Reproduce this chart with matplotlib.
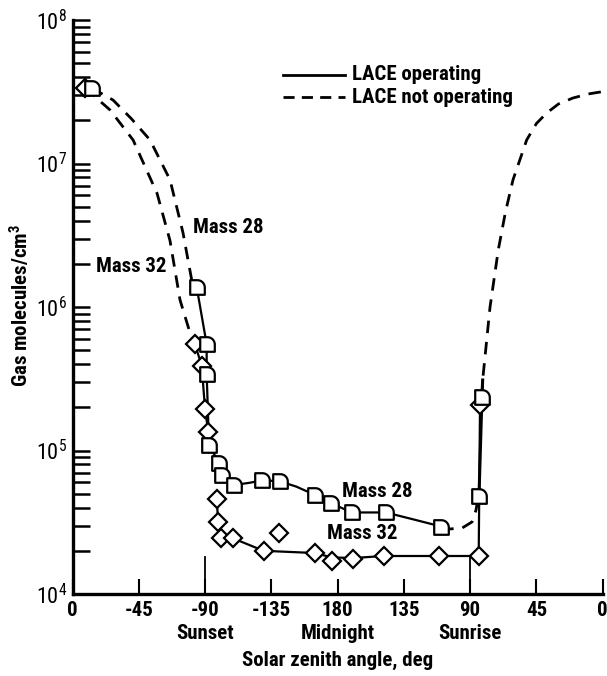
import numpy as np
import matplotlib
matplotlib.use("Agg")
import matplotlib.pyplot as plt
from matplotlib.path import Path
from matplotlib import font_manager as fm

# pick a condensed sans if one is installed
_fonts = fm.fontManager.ttflist
_chosen = None
for _name in ['Roboto Condensed', 'Liberation Sans Narrow', 'DejaVu Sans Condensed',
              'Noto Sans Condensed', 'Open Sans Condensed']:
    if any(f.name == _name for f in _fonts):
        _chosen = (_name, 'normal')
        break
if _chosen is None:
    for _name in ['DejaVu Sans', 'Noto Sans', 'Open Sans', 'Roboto', 'Inter']:
        hits = [f for f in _fonts if f.name == _name and str(f.stretch) in
                ('condensed', 'semi-condensed', 'extra-condensed', '75', '87.5', '62.5')]
        if hits:
            _chosen = (_name, str(hits[0].stretch))
            break
if _chosen is None:
    _chosen = ('Roboto', 'normal')

plt.rcParams['font.family'] = [_chosen[0], 'DejaVu Sans']
plt.rcParams['font.stretch'] = _chosen[1]
plt.rcParams['mathtext.fontset'] = 'custom'
plt.rcParams['mathtext.rm'] = _chosen[0]
FW = 'semibold'
FS = 15

# ---------------- data ----------------
xtick_pos = [0, 45, 90, 135, 180, 225, 270, 315, 360]
xtick_labels = ['0', '-45', '-90', '-135', '180', '135', '90', '45', '0']
event_pos = [90, 180, 270]
event_labels = ['Sunset', 'Midnight', 'Sunrise']

# Mass 28, LACE operating (markers)
m28_x = [13, 84.3, 91.1, 91.1, 92.7, 99.5, 101.5, 109.5, 128.9, 140.8,
         164.7, 175.5, 189.5, 212.7, 250.5, 276.0, 278.0]
m28_y = [3.36e7, 1.38e6, 5.5e5, 3.4e5, 1.09e5, 8.2e4, 6.7e4, 5.75e4, 6.2e4, 6.1e4,
         4.9e4, 4.3e4, 3.7e4, 3.7e4, 2.95e4, 4.8e4, 2.36e5]
m28_line_x = [84.3, 91.1, 91.1, 92.7, 99.5, 101.5, 109.5, 120.0, 128.9, 140.8,
              152.0, 164.7, 175.5, 189.5, 212.7, 232.0, 250.5]
m28_line_y = [1.38e6, 5.5e5, 3.4e5, 1.09e5, 8.2e4, 6.7e4, 5.75e4, 5.95e4, 6.2e4, 6.1e4,
              5.6e4, 4.9e4, 4.3e4, 3.7e4, 3.7e4, 3.3e4, 2.95e4]
m28_rise_x = [276.0, 278.0, 278.5]
m28_rise_y = [4.8e4, 2.36e5, 3.1e5]

# Mass 32, LACE operating (markers)
m32_x = [8.5, 83.2, 87.7, 90.0, 92.2, 98.1, 98.7, 100.8, 108.7, 129.7, 140.2,
         164.5, 176.0, 190.3, 211.3, 248.9, 275.8, 276.7]
m32_y = [3.36e7, 5.5e5, 3.9e5, 1.95e5, 1.34e5, 4.6e4, 3.2e4, 2.45e4, 2.45e4, 2.0e4, 2.66e4,
         1.93e4, 1.7e4, 1.75e4, 1.84e4, 1.84e4, 1.84e4, 2.08e5]
m32_lineA_x = [83.2, 87.7, 90.0, 92.2, 93.5]
m32_lineA_y = [5.5e5, 3.9e5, 1.95e5, 1.34e5, 1.1e5]
m32_lineB_x = [98.1, 98.7, 100.8, 108.7, 129.7, 164.5, 176.0, 190.3, 211.3, 248.9, 275.8, 276.7]
m32_lineB_y = [4.6e4, 3.2e4, 2.45e4, 2.45e4, 2.0e4, 1.93e4, 1.8e4, 1.78e4, 1.84e4, 1.84e4, 1.84e4, 2.08e5]

# LACE not operating (dashed)
d28_x = [13, 27.5, 40.0, 52.6, 66.2, 75.0, 80.9, 84.3]
d28_y = [3.36e7, 2.77e7, 2.05e7, 1.46e7, 7.7e6, 3.3e6, 1.55e6, 1.38e6]
d32_x = [8.5, 25.5, 41.1, 57.4, 66.2, 73.0, 79.8, 83.2]
d32_y = [3.36e7, 2.36e7, 1.46e7, 6.2e6, 2.9e6, 1.12e6, 6.6e5, 5.5e5]
d28_gap_x = [250.5, 256.3, 264.5, 271.3, 274.0, 275.3, 276.0]
d28_gap_y = [2.95e4, 2.84e4, 2.88e4, 3.18e4, 3.85e4, 4.67e4, 4.8e4]
d_rise_x = [278.0, 278.5, 283.5, 289.1, 294.0, 299.1, 308.4, 315.0, 322.0, 330.0, 339.8, 350.0, 359.3]
d_rise_y = [2.36e5, 3.1e5, 1.0e6, 2.5e6, 4.6e6, 7.7e6, 1.46e7, 1.9e7, 2.25e7, 2.6e7, 2.86e7, 3.05e7, 3.16e7]

# ---------------- figure ----------------
fig = plt.figure(figsize=(6.07, 6.76), dpi=100)
ax = fig.add_axes([72.5/607, 1-594/676, (602.7-72.5)/607, (594-20)/676])
ax.set_yscale('log')
ax.set_xlim(0, 360)
ax.set_ylim(1e4, 1e8)

# "flag" marker for mass 28: square with rounded upper-right corner
t = np.linspace(0, np.pi/2, 12)
verts = [(-1, -1), (1, -1), (1, 0)] + [(np.cos(a), np.sin(a)) for a in t[1:]] + [(-1, 1), (-1, -1)]
codes = [Path.MOVETO] + [Path.LINETO]*(len(verts)-2) + [Path.CLOSEPOLY]
flag = Path(verts, codes)

lw = 1.6
ax.plot(m28_line_x, m28_line_y, '-', color='black', lw=lw, zorder=2)
ax.plot(m28_rise_x, m28_rise_y, '-', color='black', lw=2.2, zorder=2)
ax.plot(m32_lineA_x, m32_lineA_y, '-', color='black', lw=lw, zorder=2)
ax.plot(m32_lineB_x, m32_lineB_y, '-', color='black', lw=lw, zorder=2)

dash = (0, (4.5, 3.2))
for xs, ys in ((d28_x, d28_y), (d32_x, d32_y), (d28_gap_x, d28_gap_y), (d_rise_x, d_rise_y)):
    ax.plot(xs, ys, color='black', lw=2.0, linestyle=dash, zorder=2)

ax.plot(m28_x, m28_y, linestyle='none', marker=flag, markersize=10.5,
        markerfacecolor='white', markeredgecolor='black', markeredgewidth=1.6, zorder=4)
ax.plot(m32_x, m32_y, linestyle='none', marker='D', markersize=9.3,
        markerfacecolor='white', markeredgecolor='black', markeredgewidth=1.6, zorder=3)

for xe in (90, 270):
    ax.plot([xe, xe], [1e4, 1.8e4], color='black', lw=1.3, zorder=1)

# legend (manual)
ax.plot([143, 185], [4.14e7, 4.14e7], color='black', lw=2.0)
ax.plot([143, 185], [2.9e7, 2.9e7], color='black', lw=2.0, linestyle=(0, (4.0, 2.6)))
ax.text(190, 4.14e7, 'LACE operating', fontsize=FS, va='center', ha='left', weight=FW)
ax.text(190, 2.9e7, 'LACE not operating', fontsize=FS, va='center', ha='left', weight=FW)

# curve labels
ax.text(82, 3.6e6, 'Mass 28', fontsize=FS, va='center', ha='left', weight=FW)
ax.text(16, 1.9e6, 'Mass 32', fontsize=FS, va='center', ha='left', weight=FW)
ax.text(183, 5.14e4, 'Mass 28', fontsize=FS, va='center', ha='left', weight=FW)
ax.text(173, 2.62e4, 'Mass 32', fontsize=FS, va='center', ha='left', weight=FW)

for s in ('top', 'right'):
    ax.spines[s].set_visible(False)
ax.spines['left'].set_linewidth(2.4)
ax.spines['bottom'].set_linewidth(2.4)
ax.set_xticks(xtick_pos)
ax.set_xticklabels(xtick_labels, fontsize=FS, weight=FW)
ax.tick_params(axis='x', direction='in', length=11, width=1.5, pad=5)
ax.set_yticks([1e4, 1e5, 1e6, 1e7, 1e8])
ax.set_yticklabels([r'$\mathregular{10^{4}}$', r'$\mathregular{10^{5}}$', r'$\mathregular{10^{6}}$',
                    r'$\mathregular{10^{7}}$', r'$\mathregular{10^{8}}$'], fontsize=16)
ax.tick_params(axis='y', which='major', direction='in', length=12, width=1.8, pad=4)
ax.tick_params(axis='y', which='minor', direction='in', length=12, width=1.8)
ax.yaxis.set_minor_locator(matplotlib.ticker.LogLocator(base=10, subs=np.arange(2, 10), numticks=20))
ax.yaxis.set_minor_formatter(matplotlib.ticker.NullFormatter())

for xe, lab in zip(event_pos, event_labels):
    ax.text(xe, -0.068, lab, transform=ax.get_xaxis_transform(), fontsize=FS,
            ha='center', va='center', weight=FW)
ax.text(0.5, -0.115, 'Solar zenith angle, deg', transform=ax.transAxes, fontsize=FS,
        ha='center', va='center', weight=FW)
fig.text(20/607, 1-306/676, r'Gas molecules/cm$\mathregular{^3}$', rotation=90, fontsize=FS,
         ha='center', va='center', weight=FW)

fig.savefig('out.png', dpi=100)
